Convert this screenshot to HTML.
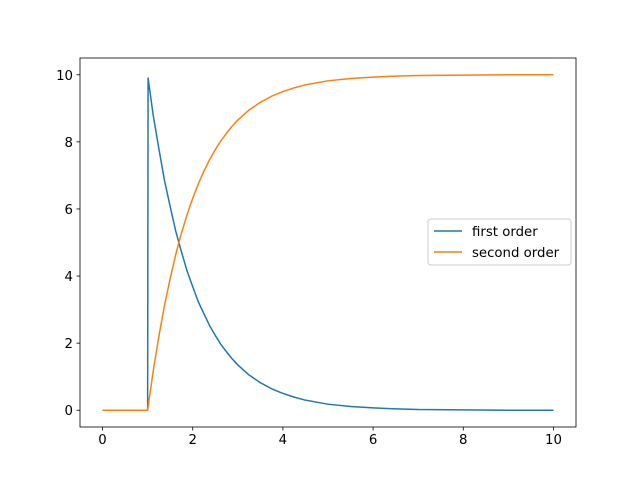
<!DOCTYPE html>
<html><head><meta charset="utf-8"><style>
body{margin:0;background:#fff}
text{font-family:"DejaVu Sans","Liberation Sans",sans-serif;font-size:13.3px;fill:#000}
</style></head><body>
<svg id="chart" width="640" height="480">
<rect width="640" height="480" fill="#fff"/>
<g id="plot"></g>
</svg>
<script>
const xTicks=[0,2,4,6,8,10];
const yTicks=[0,2,4,6,8,10];
const firstT=[0,1,1.01,1.125,1.25,1.375,1.5,1.625,1.75,1.875,2,2.125,2.25,2.375,2.5,2.625,2.75,2.875,3,3.25,3.5,3.75,4,4.25,4.5,4.75,5,5.5,6,6.5,7,8,9,10];
const firstV=[0,0,9.90,8.78,7.79,6.84,6.07,5.33,4.72,4.15,3.68,3.23,2.87,2.52,2.23,1.96,1.74,1.53,1.35,1.05,0.82,0.64,0.50,0.39,0.30,0.24,0.18,0.11,0.07,0.04,0.02,0.01,0.00,0.00];
const secondT=[0,1,1.125,1.25,1.375,1.5,1.625,1.75,1.875,2,2.125,2.25,2.375,2.5,2.625,2.75,2.875,3,3.25,3.5,3.75,4,4.25,4.5,4.75,5,5.5,6,6.5,7,8,9,10];
const secondV=[0,0,1.18,2.21,3.13,3.93,4.65,5.28,5.83,6.32,6.75,7.13,7.47,7.77,8.03,8.26,8.47,8.65,8.95,9.18,9.36,9.50,9.61,9.70,9.76,9.82,9.89,9.93,9.96,9.98,9.99,10,10];
const L=80,R=576,T=58,B=427,xmin=-0.5,xmax=10.5,ymin=-0.5,ymax=10.5;
const sx=v=>L+(v-xmin)/(xmax-xmin)*(R-L);
const sy=v=>B-(v-ymin)/(ymax-ymin)*(B-T);
const NS="http://www.w3.org/2000/svg";
const g=document.getElementById('plot');
function mk(tag,attrs,txt){const e=document.createElementNS(NS,tag);for(const k in attrs)e.setAttribute(k,attrs[k]);if(txt!==undefined)e.textContent=txt;g.appendChild(e);return e;}
function line(ts,vs,color,name){
  const p=mk('polyline',{points:ts.map((t,i)=>sx(t)+','+sy(vs[i])).join(' '),fill:'none',stroke:color,'stroke-width':1.5,'stroke-linejoin':'round'});
  
  
}
line(firstT,firstV,'#1f77b4','first-order-line');
line(secondT,secondV,'#ff7f0e','second-order-line');
const frame=mk('rect',{x:L,y:T,width:R-L,height:B-T,fill:'none',stroke:'#000','stroke-width':0.8});


xTicks.forEach(v=>{
  const x=sx(v);
  const t=mk('line',{x1:x,x2:x,y1:B,y2:B+3.5,stroke:'#000','stroke-width':0.8});
  
  
  const l=mk('text',{x:x,y:B+17,'text-anchor':'middle'},String(v));
  
  
});
yTicks.forEach(v=>{
  const y=sy(v);
  const t=mk('line',{x1:L-3.5,x2:L,y1:y,y2:y,stroke:'#000','stroke-width':0.8});
  
  
  const l=mk('text',{x:L-7,y:y+5,'text-anchor':'end'},String(v));
  
  
});
const lg=mk('rect',{x:428,y:219,width:143,height:46,rx:3,fill:'#fff','fill-opacity':0.8,stroke:'#ccc','stroke-width':1});


[['first order','#1f77b4',231],['second order','#ff7f0e',252]].forEach(([n,c,y])=>{
  const s=mk('line',{x1:434,x2:462,y1:y,y2:y,stroke:c,'stroke-width':1.5});
  
  
  const t=mk('text',{x:472,y:y+5},n);
  
  
});
</script>
</body></html>
